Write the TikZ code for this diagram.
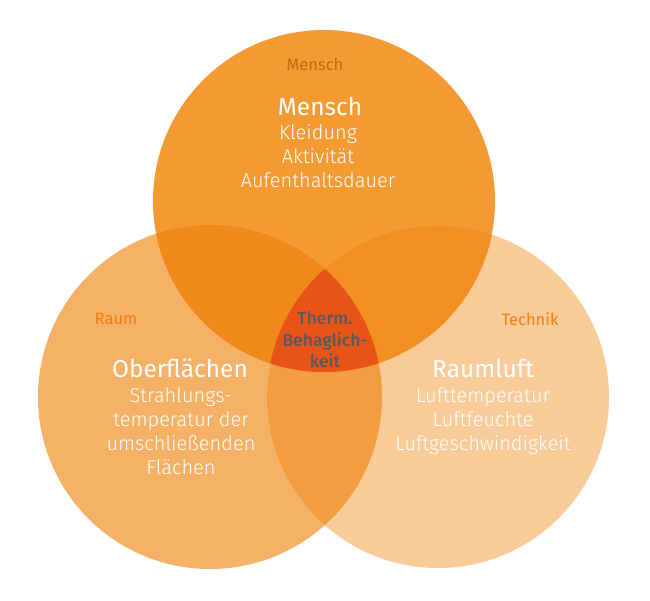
\documentclass[tikz,border=0pt]{standalone}
\usepackage{fontspec}
\setmainfont{Fira Sans}[UprightFont=* Light, BoldFont=* Medium]
\newfontfamily\regfont{Fira Sans}

\definecolor{topcol}{HTML}{F39A33}
\definecolor{leftcol}{HTML}{F5B166}
\definecolor{rightcol}{HTML}{F8CB98}
\definecolor{topleftcol}{HTML}{F0891A}
\definecolor{toprightcol}{HTML}{F18F22}
\definecolor{lrcol}{HTML}{F39C40}
\definecolor{corecol}{HTML}{E85418}
\definecolor{tagdark}{HTML}{BE690F}
\definecolor{tagorange}{HTML}{EE7F10}
\definecolor{coregray}{HTML}{575A5E}

\begin{document}
\begin{tikzpicture}[x=1pt, y=-1pt,
	head/.style={font=\fontsize{24.5}{28}\selectfont\regfont, text=white, anchor=base, inner sep=0pt},
	body/.style={font=\fontsize{20}{24}\selectfont, text=white, anchor=base, inner sep=0pt},
	tag/.style={font=\fontsize{16.5}{20}\selectfont\regfont, text=tagorange, anchor=base, inner sep=0pt},
	core/.style={font=\fontsize{17.5}{20}\selectfont\bfseries, text=coregray, anchor=base, inner sep=0pt}]

	\useasboundingbox (0,0) rectangle (650,600);

	\coordinate (T) at (324,201);
	\coordinate (L) at (210,397);
	\coordinate (R) at (438,397);

	\fill[leftcol] (L) circle[radius=172pt];
	\fill[rightcol] (R) circle[radius=171pt];
	\fill[topcol] (T) circle[radius=171pt];
	\begin{scope}
		\clip (L) circle[radius=172pt];
		\fill[lrcol] (R) circle[radius=171pt];
	\end{scope}
	\begin{scope}
		\clip (T) circle[radius=171pt];
		\fill[topleftcol] (L) circle[radius=172pt];
		\fill[toprightcol] (R) circle[radius=171pt];
		\clip (L) circle[radius=172pt];
		\fill[corecol] (R) circle[radius=171pt];
	\end{scope}

	\node[tag, text=tagdark] (mtag) at (315,70) {Mensch};
	\node[head] (mhead) at (320,115) {Mensch};
	\node[body] (m1) at (318,139) {Kleidung};
	\node[body] (m2) at (318,163) {Aktivität};
	\node[body] (m3) at (318,187) {Aufenthaltsdauer};

	\node[tag] (rtag) at (116,324) {Raum};
	\node[head] (ohead) at (180,377) {Oberflächen};
	\node[body] (o1) at (181,402) {Strahlungs-};
	\node[body] (o2) at (181,426) {temperatur der};
	\node[body] (o3) at (181,450) {umschließenden};
	\node[body] (o4) at (181,474) {Flächen};

	\node[tag] (ttag) at (530,325) {Technik};
	\node[head] (lhead) at (483,377) {Raumluft};
	\node[body] (l1) at (483,402) {Lufttemperatur};
	\node[body] (l2) at (483,426) {Luftfeuchte};
	\node[body] (l3) at (483,450) {Luftgeschwindigkeit};

	\node[core] (c1) at (325,324) {Therm.};
	\node[core] (c2) at (325,346) {Behaglich-};
	\node[core] (c3) at (325,367) {keit};
\end{tikzpicture}
\end{document}
